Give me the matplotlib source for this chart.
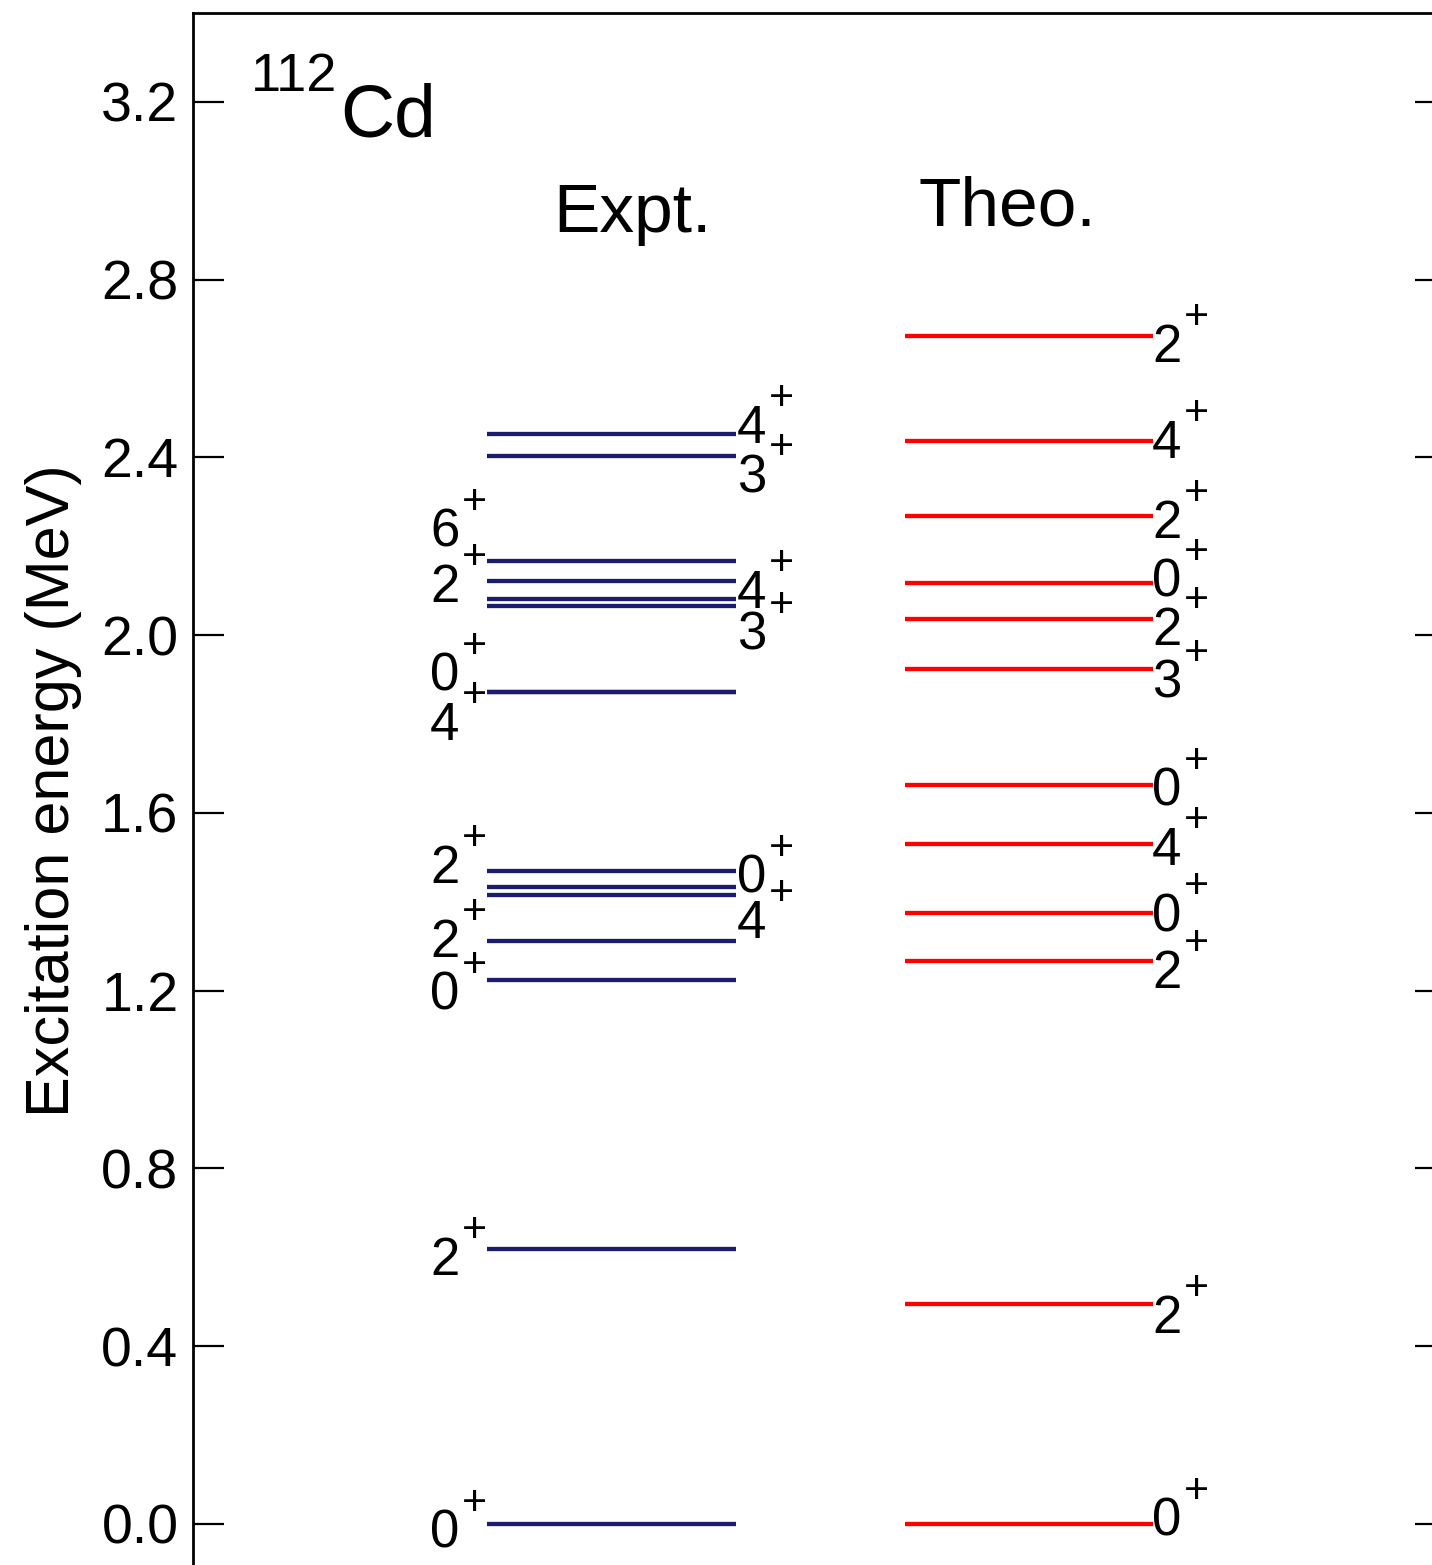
import matplotlib
matplotlib.use("Agg")
import matplotlib.pyplot as plt

plt.rcParams['font.family'] = ['Liberation Sans', 'DejaVu Sans']

# ---------------- data ----------------
nucleus_mass = "112"
nucleus_symbol = "Cd"

# experimental levels (MeV)
expt_E = [0.000, 0.619, 1.224, 1.312, 1.415, 1.433, 1.469, 1.872, 1.872,
          2.066, 2.082, 2.122, 2.167, 2.403, 2.453]
expt_J = ['0', '2', '0', '2', '4', '0', '2', '0', '4',
          '3', '4', '2', '6', '3', '4']
expt_side = ['L', 'L', 'L', 'L', 'R', 'R', 'L', 'L', 'L',
             'R', 'R', 'L', 'L', 'R', 'R']
expt_label_E = [-0.054, 0.560, 1.157, 1.276, 1.319, 1.420, 1.442, 1.875, 1.764,
                1.967, 2.061, 2.075, 2.199, 2.322, 2.433]

# theoretical levels (MeV)
theo_E = [0.000, 0.495, 1.267, 1.375, 1.530, 1.663, 1.924, 2.037, 2.118,
          2.268, 2.437, 2.673]
theo_J = ['0', '2', '2', '0', '4', '0', '3', '2', '0', '2', '4', '2']
theo_label_E = [-0.027, 0.430, 1.207, 1.334, 1.483, 1.616, 1.859, 1.978, 2.086,
                2.219, 2.399, 2.615]

yticks = [0.0, 0.4, 0.8, 1.2, 1.6, 2.0, 2.4, 2.8, 3.2]
ytick_labels = ['0.0', '0.4', '0.8', '1.2', '1.6', '2.0', '2.4', '2.8', '3.2']

# ---------------- layout / style ----------------
W, H = 1432, 1565
fig = plt.figure(figsize=(W / 100, H / 100), dpi=100)
ax_left_px, ax_right_px, ax_top_px, ax_bot_px = 193, 1446, 13, 1568.4
ax = fig.add_axes([ax_left_px / W, 1 - ax_bot_px / H,
                   (ax_right_px - ax_left_px) / W, (ax_bot_px - ax_top_px) / H])
ax.set_xlim(0, 1)
ax.set_ylim(-0.1, 3.4)

def px2x(px):
    return (px - ax_left_px) / (ax_right_px - ax_left_px)

PT = 0.72  # points per pixel at dpi 100

expt_x0, expt_x1 = px2x(487), px2x(736)
theo_x0, theo_x1 = px2x(905), px2x(1153)
expt_color = '#1c1c6e'
theo_color = '#ff0000'
lw = 3.1
lab_fs = 38
plus_fs = 31

ax.hlines(expt_E, expt_x0, expt_x1, colors=expt_color, linewidth=lw)
ax.hlines(theo_E, theo_x0, theo_x1, colors=theo_color, linewidth=lw)

def spin_label(xpx, y, j):
    ax.text(px2x(xpx), y, j, ha='left', va='baseline', fontsize=lab_fs)
    ax.annotate('+', xy=(px2x(xpx), y), xytext=(44 * PT, 44 * PT),
                textcoords='offset points', ha='center', va='center',
                fontsize=plus_fs)

for j, s, ly in zip(expt_J, expt_side, expt_label_E):
    spin_label(430 if s == 'L' else 737, ly, j)

for j, ly in zip(theo_J, theo_label_E):
    spin_label(1152, ly, j)

ax.text(px2x(553), 2.907, 'Expt.', ha='left', va='baseline', fontsize=50)
ax.text(px2x(918), 2.921, 'Theo.', ha='left', va='baseline', fontsize=50)
ax.text(px2x(251), 3.224, nucleus_mass, ha='left', va='baseline', fontsize=39)
ax.text(px2x(340), 3.121, nucleus_symbol, ha='left', va='baseline', fontsize=54)

ax.set_yticks(yticks)
ax.set_yticklabels(ytick_labels)
ax.set_xticks([])
ax.tick_params(axis='y', direction='in', length=22, width=1.6, left=True, right=True,
               labelsize=40, pad=10.5)
for sp in ax.spines.values():
    sp.set_linewidth(2.0)

ax.set_ylabel('Excitation energy (MeV)', fontsize=44)
ax.yaxis.set_label_coords(px2x(82), 0.5)

fig.savefig('out.png', dpi=100)
